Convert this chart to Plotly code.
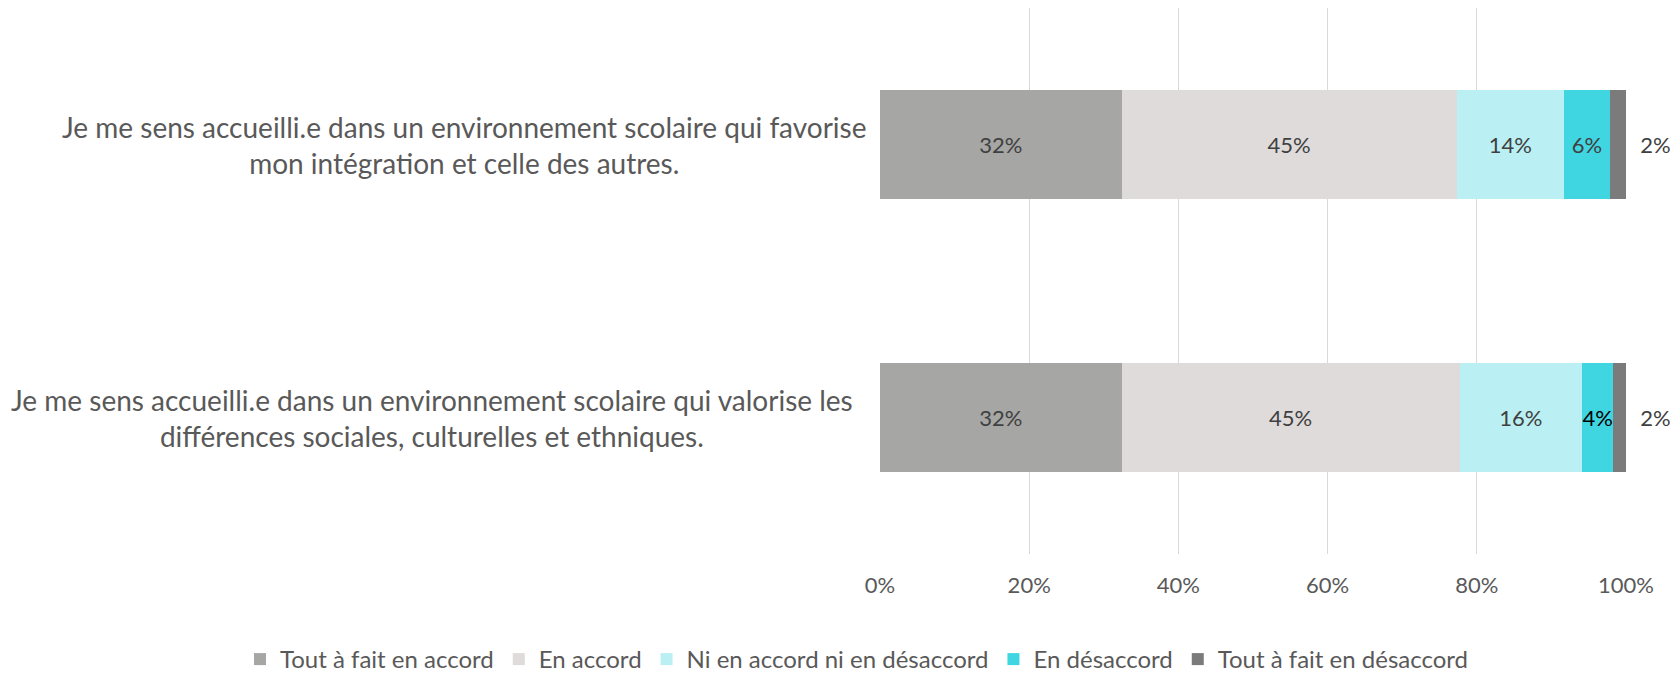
import plotly.graph_objects as go

categories = [
    "Je me sens accueilli.e dans un environnement scolaire qui favorise<br>mon intégration et celle des autres.",
    "Je me sens accueilli.e dans un environnement scolaire qui valorise les<br>différences sociales, culturelles et ethniques.",
]
series_names = ["Tout à fait en accord", "En accord", "Ni en accord ni en désaccord",
                "En désaccord", "Tout à fait en désaccord"]
tout_accord = [32.4, 32.4]
en_accord = [44.9, 45.3]
ni_ni = [14.4, 16.4]
desaccord = [6.1, 4.2]
tout_desaccord = [2.2, 1.7]
x_ticks = [0, 20, 40, 60, 80, 100]
x_tick_labels = ["0%", "20%", "40%", "60%", "80%", "100%"]

colors = ["#A6A6A5", "#DEDBDA", "#BAF0F3", "#3FD6E2", "#7B7B7B"]
values = [tout_accord, en_accord, ni_ni, desaccord, tout_desaccord]
FONT = "Lato"

fig = go.Figure()
for i, (name, vals, col) in enumerate(zip(series_names, values, colors)):
    last = i == len(series_names) - 1
    text = [("  " if last else "") + f"{round(v)}%" for v in vals]
    tcolor = ["#404040"] * len(vals)
    if name == "En désaccord":
        tcolor = ["#404040", "#000000"]
    fig.add_trace(go.Bar(
        y=categories, x=vals, name=name, orientation="h",
        marker=dict(color=col, line=dict(width=0)),
        text=text, texttemplate="%{text}",
        textposition="outside" if last else "inside",
        insidetextanchor="middle", textangle=0, constraintext="none",
        textfont=dict(family=FONT, size=22, color=tcolor),
        outsidetextfont=dict(family=FONT, size=22, color="#404040"),
        cliponaxis=False,
        width=0.4,
    ))

for cat, xc in zip(categories, [464, 432]):
    fig.add_annotation(
        x=(xc - 880) / 746, xref="paper", y=cat, yref="y",
        text=cat, showarrow=False, xanchor="center", yanchor="middle",
        align="center", font=dict(family=FONT, size=28, color="#595959"),
    )

fig.update_layout(
    width=1670, height=676,
    barmode="stack",
    plot_bgcolor="white", paper_bgcolor="white",
    margin=dict(l=880, r=44, t=8, b=122, autoexpand=False),
    font=dict(family=FONT, color="#595959"),
    xaxis=dict(
        range=[0, 100], tickvals=x_ticks, ticktext=x_tick_labels,
        showgrid=True, gridcolor="#D9D9D9", gridwidth=1.3,
        zeroline=False, showline=False,
        tickfont=dict(family=FONT, size=22, color="#595959"),
        ticklabelstandoff=16,
    ),
    yaxis=dict(
        autorange="reversed", showticklabels=False, showgrid=False,
        zeroline=False, showline=False,
    ),
    legend=dict(
        orientation="h", xref="paper", yref="paper",
        x=(240 - 880) / 746, xanchor="left", y=-(682 - 554) / 546, yanchor="bottom",
        font=dict(family=FONT, size=24, color="#595959"),
        traceorder="normal", itemwidth=30,
    ),
)
fig.write_html("out.html", config={"displayModeBar": False},
               post_script="document.body.style.margin='0';")
